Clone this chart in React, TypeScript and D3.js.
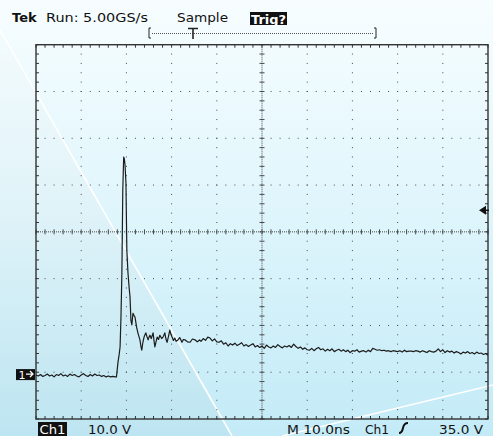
import * as d3 from 'd3';
import React from 'react';

// scope settings
const timePerDiv = 10; // ns
const voltsPerDiv = 10; // V
const triggerLevel = 35; // V

// baseline before the pulse, one sample each 0.5 ns from 0 ns
const baselineVolts = [
  -0.2, -0.4, -0.1, -0.5, -0.3, 0.0, -0.4, -0.2, -0.6, -0.1, -0.3, 0.1, -0.4, -0.2, -0.5, 0.0, -0.3, -0.1,
  -0.4, -0.6, -0.2, 0.1, -0.3, -0.5, -0.1, -0.4, 0.0, -0.3, -0.2, -0.5, -0.3, -0.6, -0.4, -0.6, -0.5, -0.6,
];

// the pulse and ringing, irregular times
const pulseTimes = [
  17.8, 17.95, 18.15, 18.4, 18.6, 18.8, 19.0, 19.2, 19.4, 19.55, 19.7, 19.9, 20.1, 20.35, 20.6, 20.8, 21.0,
  21.2, 21.45, 21.7, 21.9, 22.1, 22.3, 22.6, 23.0, 23.2, 23.4, 23.65, 23.9, 24.1, 24.3, 24.55, 24.8, 25.0,
  25.2, 25.5, 25.9, 26.1, 26.3, 26.55, 26.8, 27.1, 27.4, 27.8, 28.1, 28.5, 28.75, 29.0, 29.3, 29.6, 29.85,
  30.1, 30.4, 30.7, 31.0, 31.4, 31.8, 32.3, 32.6, 33.0, 33.5, 34.1, 34.6, 35.2, 35.7, 36.2,
];
const pulseVolts = [
  -0.6, 0.8, 2.6, 4.2, 5.8, 12.2, 21.6, 39.3, 46.4, 46.0, 44.7, 40.8, 26.5, 21.6, 18.5, 16.5, 11.5,
  10.5, 13.0, 12.5, 12.2, 11.0, 9.8, 8.6, 7.3, 6.0, 5.1, 6.8, 7.9, 8.4, 8.8, 8.0, 7.3, 7.9,
  8.3, 7.6, 8.8, 7.2, 5.8, 6.9, 7.9, 7.4, 8.3, 7.6, 7.9, 8.8, 7.5, 6.8, 8.0, 9.4, 8.5,
  7.9, 7.2, 7.7, 7.0, 7.3, 7.8, 6.8, 7.4, 7.3, 6.9, 6.8, 7.5, 7.3, 6.9, 7.3,
];

// slow decay, one sample each 0.5 ns from 36.5 ns
const tailVolts = [
  7.0, 7.6, 7.2, 7.9, 7.7, 7.1, 7.5, 6.9,
  6.8, 7.1, 6.4, 6.7, 6.0, 6.5, 6.2, 6.6,
  6.1, 6.4, 6.7, 6.0, 6.3, 5.9, 6.2, 6.5,
  5.8, 6.1, 5.7, 6.0, 5.5, 6.2, 5.8, 5.6,
  6.0, 5.7, 6.3, 5.9, 5.6, 6.0, 5.8, 6.1,
  5.7, 6.4, 5.9, 5.5, 5.8, 5.3, 5.6, 5.2,
  5.1, 5.5, 5.0, 5.4, 5.7, 5.2, 5.4, 4.9,
  5.3, 5.0, 5.4, 4.8, 5.1, 5.3, 4.9, 5.2,
  4.8, 5.1, 4.6, 5.0, 4.9, 5.2, 4.7, 4.9,
  5.0, 4.7, 5.1, 4.8, 5.5, 5.3, 5.1, 5.2,
  5.0, 5.1, 4.9, 5.0, 4.8, 5.0, 4.9, 4.8,
  5.0, 4.7, 5.1, 4.8, 4.9, 4.9, 4.8, 5.0,
  4.9, 4.7, 5.0, 4.8, 4.6, 5.0, 4.8, 4.7,
  4.9, 5.4, 4.8, 5.2, 4.6, 5.0, 4.7, 4.9,
  4.5, 4.8, 4.6, 4.3, 4.7, 4.5, 4.8, 4.4,
  4.6, 4.3, 4.7, 4.4, 4.5, 4.2, 4.4, 4.0,
];

const W = 493;
const H = 436;
const font = 'DejaVu Sans, sans-serif';

export default function App() {
  const x = d3.scaleLinear().domain([0, 10 * timePerDiv]).range([36, 488]);
  const y = d3.scaleLinear().domain([-9.6, 70.4]).range([419, 44.7]);
  const [t0, t1] = x.domain();
  const [v0, v1] = y.domain();
  const tc = (t0 + t1) / 2;
  const vc = (v0 + v1) / 2;

  const points: [number, number][] = [
    ...baselineVolts.map((v, i) => [i * 0.5, v] as [number, number]),
    ...pulseTimes.map((t, i) => [t, pulseVolts[i]] as [number, number]),
    ...tailVolts.map((v, i) => [36.5 + i * 0.5, v] as [number, number]),
  ];
  const line = d3
    .line<[number, number]>()
    .x((d) => x(d[0]))
    .y((d) => y(d[1]));

  const majorT = d3.range(0, 11).map((k) => t0 + k * timePerDiv);
  const majorV = d3.range(0, 9).map((k) => v0 + k * voltsPerDiv);
  const minorT = d3.range(0, 51).map((k) => t0 + (k * timePerDiv) / 5);
  const minorV = d3.range(0, 41).map((k) => v0 + (k * voltsPerDiv) / 5);

  const gridColor = '#4a4a4a';
  const L = x(t0), R = x(t1), T = y(v1), B = y(v0);
  const xc = x(tc), yc = y(vc);
  const ground = y(0);
  const trig = y(triggerLevel);

  return (
    <svg width={W} height={H} style={{ position: 'fixed', left: 0, top: 0 }}>
      <defs>
        <linearGradient id="bg" x1="0" y1="0" x2="0" y2="1">
          <stop offset="0%" stopColor="#f7fdff" />
          <stop offset="35%" stopColor="#e6f8fd" />
          <stop offset="100%" stopColor="#c3ebf7" />
        </linearGradient>
        <linearGradient id="bgl" x1="0" y1="0" x2="0" y2="1">
          <stop offset="0%" stopColor="#f3fbfd" />
          <stop offset="40%" stopColor="#e2f4f9" />
          <stop offset="100%" stopColor="#bde5f1" />
        </linearGradient>
      </defs>
      <rect width={W} height={H} fill="url(#bg)" />
      <polygon points={`0,30 232,436 0,436`} fill="url(#bgl)" />
      <line x1={0} y1={30} x2={232} y2={436} stroke="#ffffff" strokeWidth={1.6} />
      <line x1={282} y1={436} x2={493} y2={385} stroke="#ffffff" strokeWidth={1.6} />

      {/* grid dots */}
      {majorT.slice(1, -1).filter((t) => t !== tc).map((t) =>
        minorV.map((v) => (
          <rect key={`gv${t}-${v}`} x={x(t) - 0.5} y={y(v) - 0.5} width={1} height={1} fill={gridColor} />
        ))
      )}
      {majorV.slice(1, -1).filter((v) => Math.abs(v - vc) > 0.01).map((v) =>
        minorT.map((t) => (
          <rect key={`gh${v}-${t}`} x={x(t) - 0.5} y={y(v) - 0.5} width={1} height={1} fill={gridColor} />
        ))
      )}

      {/* centre cross */}
      <line x1={L} x2={R} y1={yc} y2={yc} stroke={gridColor} strokeWidth={1} strokeDasharray="1,1" />
      <line x1={xc} x2={xc} y1={T} y2={B} stroke={gridColor} strokeWidth={1} strokeDasharray="1,1" />
      {minorT.map((t) => (
        <line key={`ct${t}`} x1={x(t)} x2={x(t)} y1={yc - 2.5} y2={yc + 2.5} stroke={gridColor} strokeWidth={1} />
      ))}
      {minorV.map((v) => (
        <line key={`cv${v}`} x1={xc - 2.5} x2={xc + 2.5} y1={y(v)} y2={y(v)} stroke={gridColor} strokeWidth={1} />
      ))}

      {/* border with ticks */}
      <rect x={L} y={T} width={R - L} height={B - T} fill="none" stroke="#333" strokeWidth={1.4} />
      {minorT.map((t) => (
        <g key={`bt${t}`} stroke="#333" strokeWidth={1}>
          <line x1={x(t)} x2={x(t)} y1={T} y2={T + 3} />
          <line x1={x(t)} x2={x(t)} y1={B} y2={B - 3} />
        </g>
      ))}
      {minorV.map((v) => (
        <g key={`bv${v}`} stroke="#333" strokeWidth={1}>
          <line x1={L} x2={L + 3} y1={y(v)} y2={y(v)} />
          <line x1={R} x2={R - 3} y1={y(v)} y2={y(v)} />
        </g>
      ))}

      {/* waveform */}
      <path d={line(points) ?? ''} fill="none" stroke="#1c1c1c" strokeWidth={1.2} strokeLinejoin="round" />

      {/* ground marker */}
      <rect x={16} y={ground - 5} width={19} height={11} fill="#111" />
      <text x={18.5} y={ground + 4.5} fontFamily={font} fontSize={11} fill="#fff">1</text>
      <path d={`M26,${ground} H33 M30,${ground - 3} L33,${ground} L30,${ground + 3}`} stroke="#fff" strokeWidth={1.3} fill="none" />

      {/* trigger level marker */}
      <path d={`M479,${trig} L486,${trig - 4.5} L486,${trig + 4.5} Z`} fill="#111" />
      <line x1={485} x2={489} y1={trig} y2={trig} stroke="#111" strokeWidth={1.5} />

      {/* header */}
      <text x={12} y={22} fontFamily={font} fontSize={13} fontWeight="bold" fill="#111">Tek</text>
      <text x={46} y={22} fontFamily={font} fontSize={13} fill="#111" textLength={102} lengthAdjust="spacingAndGlyphs">Run: 5.00GS/s</text>
      <text x={177} y={22} fontFamily={font} fontSize={13} fill="#111" textLength={51} lengthAdjust="spacingAndGlyphs">Sample</text>
      <rect x={250} y={12} width={37} height={13} fill="#111" />
      <text x={251} y={23.5} fontFamily={font} fontSize={12} fontWeight="bold" fill="#fff" textLength={35} lengthAdjust="spacingAndGlyphs">Trig?</text>

      {/* record bar */}
      <path d="M151,28 H149 V38 H151" stroke="#222" strokeWidth={1} fill="none" />
      <path d="M374,28 H376 V38 H374" stroke="#222" strokeWidth={1} fill="none" />
      <line x1={152} x2={373} y1={33.5} y2={33.5} stroke="#555" strokeWidth={1} strokeDasharray="1,1" />
      <path d="M188,28.5 H198 M193,28.5 V39" stroke="#222" strokeWidth={1.6} fill="none" />

      {/* footer */}
      <rect x={38} y={422} width={29} height={14} fill="#111" />
      <text x={39.5} y={434} fontFamily={font} fontSize={13} fill="#fff" textLength={26} lengthAdjust="spacingAndGlyphs">Ch1</text>
      <text x={88} y={434} fontFamily={font} fontSize={13} fill="#111" textLength={43} lengthAdjust="spacingAndGlyphs">10.0 V</text>
      <text x={287} y={434} fontFamily={font} fontSize={13} fill="#111" textLength={63} lengthAdjust="spacingAndGlyphs">M 10.0ns</text>
      <text x={365} y={434} fontFamily={font} fontSize={13} fill="#111" textLength={24} lengthAdjust="spacingAndGlyphs">Ch1</text>
      <path d="M399,433 Q402,433 403,428 Q404,423 408,423" stroke="#111" strokeWidth={2} fill="none" />
      <text x={439} y={434} fontFamily={font} fontSize={13} fill="#111" textLength={44} lengthAdjust="spacingAndGlyphs">35.0 V</text>
    </svg>
  );
}
